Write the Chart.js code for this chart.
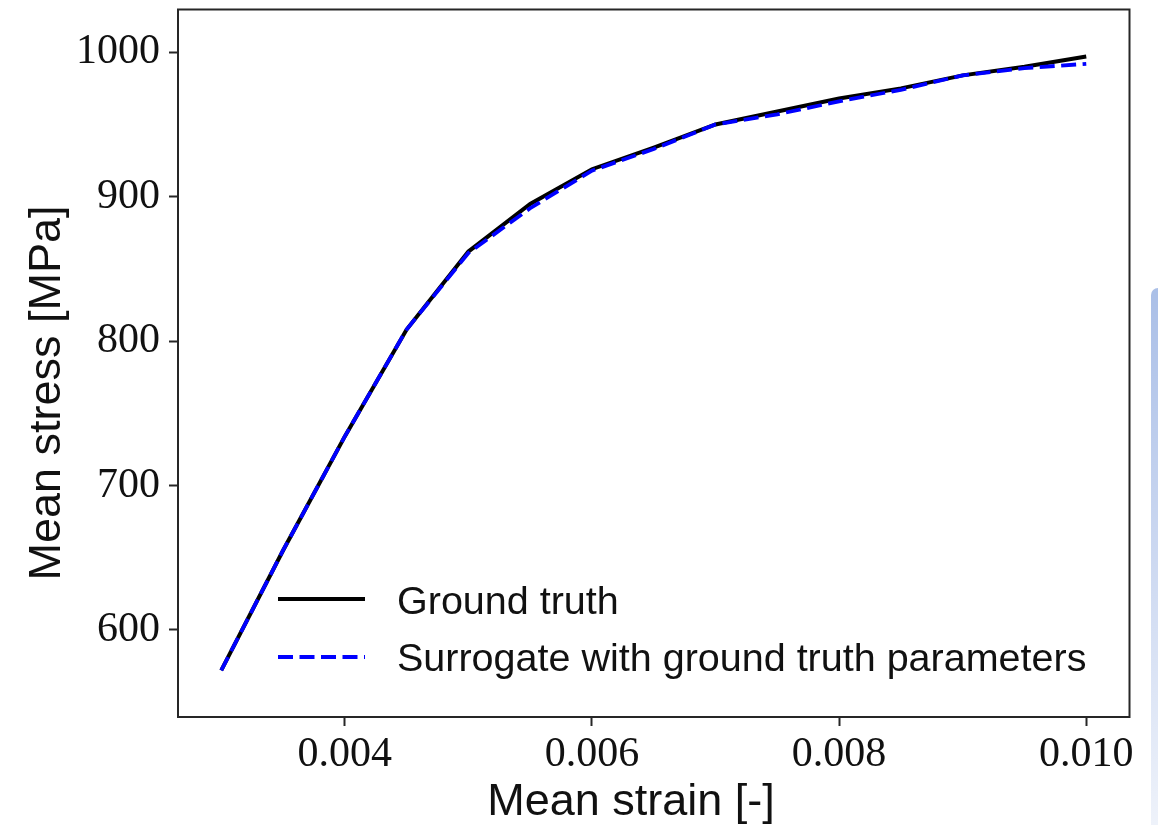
<!DOCTYPE html>
<html>
<head>
<meta charset="utf-8">
<script src="https://cdn.jsdelivr.net/npm/chart.js@4/dist/chart.umd.min.js"></script>
<style>
  html, body { margin: 0; padding: 0; background: #ffffff; }
  #wrap { position: relative; width: 1158px; height: 825px; overflow: hidden; }
  #edge {
    position: absolute; left: 1151px; top: 288px; width: 7px; height: 537px;
    border-top-left-radius: 7px;
    background: linear-gradient(to bottom, #aabfe7 0%, #c9d6f0 45%, #eef2fa 100%);
  }
</style>
</head>
<body>
<div id="wrap">
  <canvas id="chart" width="1158" height="825"></canvas>
  <div id="edge"></div>
</div>
<script>
// Mean strain sample points [-]
const strain = [0.003, 0.0035, 0.004, 0.0045, 0.005, 0.0055, 0.006, 0.0065,
                0.007, 0.0075, 0.008, 0.0085, 0.009, 0.0095, 0.010];
// Mean stress [MPa], reference simulation
const groundTruth = [572, 655, 734, 808, 862, 895, 919, 934,
                     950, 959, 968, 975, 984, 990, 997];
// Mean stress [MPa], surrogate model evaluated at the reference parameters
const surrogate = [572, 655, 734, 808, 861, 892, 918, 933,
                   950, 957, 966, 974, 984, 989, 992];

const xTicks = [0.004, 0.006, 0.008, 0.010];
const yTicks = [600, 700, 800, 900, 1000];

const seriesNames = ['Ground truth', 'Surrogate with ground truth parameters'];
const xTitle = 'Mean strain [-]';
const yTitle = 'Mean stress [MPa]';

const toPoints = (xs, ys) => xs.map((x, i) => ({ x: x, y: ys[i] }));

const axisColor = '#262626';
const textColor = '#111111';
const serif = '"Liberation Serif", "Times New Roman", serif';
const sans = '"Liberation Sans", Arial, sans-serif';

// Closed frame around the plotting area
const framePlugin = {
  id: 'frame',
  afterDraw(chart) {
    const { ctx, chartArea: a } = chart;
    ctx.save();
    ctx.strokeStyle = axisColor;
    ctx.lineWidth = 2;
    ctx.strokeRect(a.left, a.top, a.right - a.left, a.bottom - a.top);
    ctx.restore();
  }
};

// Axis titles
const axisTitles = {
  id: 'axisTitles',
  afterDraw(chart) {
    const { ctx } = chart;
    ctx.save();
    ctx.fillStyle = textColor;
    ctx.font = '45px ' + sans;
    ctx.textAlign = 'center';
    ctx.textBaseline = 'middle';
    ctx.fillText(xTitle, 631, 803);
    ctx.translate(48, 393);
    ctx.rotate(-Math.PI / 2);
    ctx.fillText(yTitle, 0, 0);
    ctx.restore();
  }
};

// Legend drawn inside the plotting area, lower left
const insideLegend = {
  id: 'insideLegend',
  afterDraw(chart) {
    const { ctx } = chart;
    const rows = [
      { ds: chart.data.datasets[0], lineY: 599, baseY: 614 },
      { ds: chart.data.datasets[1], lineY: 657, baseY: 671 }
    ];
    ctx.save();
    rows.forEach(r => {
      ctx.beginPath();
      ctx.strokeStyle = r.ds.borderColor;
      ctx.lineWidth = r.ds.borderWidth;
      ctx.setLineDash(r.ds.borderDash || []);
      ctx.moveTo(278, r.lineY);
      ctx.lineTo(365, r.lineY);
      ctx.stroke();
      ctx.setLineDash([]);
      ctx.fillStyle = textColor;
      ctx.font = '39.5px ' + sans;
      ctx.textBaseline = 'alphabetic';
      ctx.textAlign = 'left';
      ctx.fillText(r.ds.label, 397, r.baseY);
    });
    ctx.restore();
  }
};

new Chart(document.getElementById('chart'), {
  type: 'scatter',
  data: {
    datasets: [
      {
        label: seriesNames[0],
        data: toPoints(strain, groundTruth),
        showLine: true,
        borderColor: '#000000',
        borderWidth: 4,
        pointRadius: 0,
        tension: 0,
        order: 1
      },
      {
        label: seriesNames[1],
        data: toPoints(strain, surrogate),
        showLine: true,
        borderColor: '#0000ff',
        borderWidth: 3.8,
        borderDash: [15, 6.5],
        pointRadius: 0,
        tension: 0,
        order: 0
      }
    ]
  },
  options: {
    responsive: false,
    devicePixelRatio: 1,
    animation: false,
    events: [],
    layout: { padding: { left: 0, right: 28.5, top: 9.5, bottom: 0 } },
    plugins: {
      legend: { display: false },
      tooltip: { enabled: false }
    },
    scales: {
      x: {
        type: 'linear',
        min: 0.00265,
        max: 0.01035,
        afterBuildTicks: s => { s.ticks = xTicks.map(v => ({ value: v })); },
        afterFit: s => { s.height = 108; s.paddingLeft = 0; s.paddingRight = 0; },
        ticks: {
          autoSkip: false,
          maxRotation: 0,
          minRotation: 0,
          padding: 4,
          color: textColor,
          font: { family: serif, size: 42 },
          callback: v => v.toFixed(3)
        },
        grid: {
          drawOnChartArea: false,
          drawTicks: true,
          tickLength: 9,
          tickWidth: 2,
          tickColor: axisColor
        },
        border: { display: true, color: axisColor, width: 2 },
        title: { display: false }
      },
      y: {
        type: 'linear',
        min: 539.7,
        max: 1029.6,
        afterBuildTicks: s => { s.ticks = yTicks.map(v => ({ value: v })); },
        afterFit: s => { s.width = 178; s.paddingTop = 0; s.paddingBottom = 0; },
        ticks: {
          padding: 9,
          color: textColor,
          font: { family: serif, size: 42 },
          callback: v => String(v)
        },
        grid: {
          drawOnChartArea: false,
          drawTicks: true,
          tickLength: 9,
          tickWidth: 2,
          tickColor: axisColor
        },
        border: { display: true, color: axisColor, width: 2 },
        title: { display: false }
      }
    }
  },
  plugins: [framePlugin, axisTitles, insideLegend]
});
</script>
</body>
</html>
